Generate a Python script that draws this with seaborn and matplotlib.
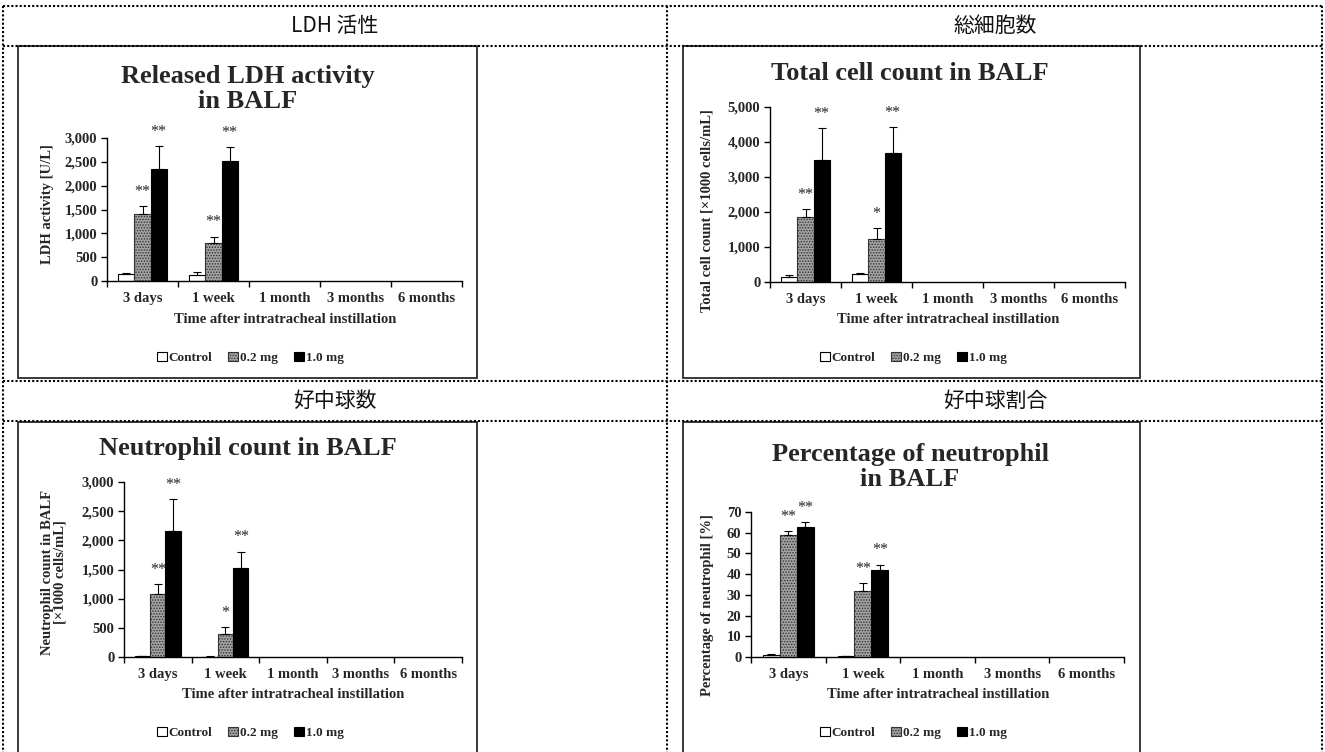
import matplotlib
matplotlib.use("Agg")
import matplotlib.pyplot as plt
import numpy as np
import pandas as pd
import seaborn as sns
from matplotlib.lines import Line2D
from matplotlib.patches import Rectangle
from matplotlib.ticker import FuncFormatter, FixedLocator

W, H = 1325, 752

# ---- data -------------------------------------------------------------
times = ["3 days", "1 week", "1 month", "3 months", "6 months"]
sampled = ["3 days", "1 week"]
doses = ["Control", "0.2 mg", "1.0 mg"]

# Released LDH activity [U/L]
ldh_control = [146, 125]
ldh_low = [1406, 793]
ldh_high = [2360, 2527]
ldh_control_err = [28, 56]
ldh_low_err = [167, 140]
ldh_high_err = [473, 285]
ldh_low_sig = ["**", "**"]
ldh_high_sig = ["**", "**"]

# Total cell count [x1000 cells/mL]
tcc_control = [130, 230]
tcc_low = [1857, 1229]
tcc_high = [3476, 3686]
tcc_control_err = [60, 30]
tcc_low_err = [229, 314]
tcc_high_err = [924, 743]
tcc_low_sig = ["**", "*"]
tcc_high_sig = ["**", "**"]

# Neutrophil count [x1000 cells/mL]
neu_control = [10, 8]
neu_low = [1086, 389]
neu_high = [2160, 1531]
neu_control_err = [3, 3]
neu_low_err = [160, 125]
neu_high_err = [549, 275]
neu_low_sig = ["**", "*"]
neu_high_sig = ["**", "**"]

# Percentage of neutrophil [%]
pct_control = [1.0, 0.4]
pct_low = [58.9, 31.9]
pct_high = [62.6, 41.8]
pct_control_err = [0.6, 0.2]
pct_low_err = [1.7, 3.7]
pct_high_err = [2.4, 2.7]
pct_low_sig = ["**", "**"]
pct_high_sig = ["**", "**"]

headers = ["LDH 活性", "総細胞数", "好中球数", "好中球割合"]

# ---- helpers ----------------------------------------------------------
def fx(x):
    return x / W


def fy(y):
    return 1 - y / H


def long_table(control, low, high, c_err, l_err, h_err, l_sig, h_sig):
    rows = []
    for series, vals, errs, sigs in (
        ("Control", control, c_err, ["", ""]),
        ("0.2 mg", low, l_err, l_sig),
        ("1.0 mg", high, h_err, h_sig),
    ):
        for t, v, e, s in zip(sampled, vals, errs, sigs):
            rows.append({"time": t, "dose": series, "value": v, "err": e, "sig": s})
    return pd.DataFrame(rows)


panels = [
    dict(df=long_table(ldh_control, ldh_low, ldh_high, ldh_control_err,
                       ldh_low_err, ldh_high_err, ldh_low_sig, ldh_high_sig),
         title="Released LDH activity\nin BALF", ylabel="LDH activity [U/L]",
         ymax=3000, ystep=500, comma=True,
         ax_box=(107, 138, 462, 281), title_xy=(248, 89),
         ylabel_xy=(47, 204), xlabel_xy=(285, 320), legend_xy=(250, 358)),
    dict(df=long_table(tcc_control, tcc_low, tcc_high, tcc_control_err,
                       tcc_low_err, tcc_high_err, tcc_low_sig, tcc_high_sig),
         title="Total cell count in BALF",
         ylabel="Total cell count [×1000 cells/mL]",
         ymax=5000, ystep=1000, comma=True,
         ax_box=(770, 107, 1125, 282), title_xy=(910, 74),
         ylabel_xy=(707, 211), xlabel_xy=(948, 320), legend_xy=(913, 358)),
    dict(df=long_table(neu_control, neu_low, neu_high, neu_control_err,
                       neu_low_err, neu_high_err, neu_low_sig, neu_high_sig),
         title="Neutrophil count in BALF",
         ylabel="Neutrophil count in BALF\n[×1000 cells/mL]",
         ymax=3000, ystep=500, comma=True,
         ax_box=(124, 482, 462, 657), title_xy=(248, 449),
         ylabel_xy=(54, 572), xlabel_xy=(293, 695), legend_xy=(250, 733)),
    dict(df=long_table(pct_control, pct_low, pct_high, pct_control_err,
                       pct_low_err, pct_high_err, pct_low_sig, pct_high_sig),
         title="Percentage of neutrophil\nin BALF",
         ylabel="Percentage of neutrophil [%]",
         ymax=70, ystep=10, comma=False,
         ax_box=(751, 512, 1124, 657), title_xy=(910, 467),
         ylabel_xy=(708, 605), xlabel_xy=(938, 695), legend_xy=(913, 733)),
]

# ---- figure -----------------------------------------------------------
sns.set_style("ticks")
plt.rcParams["font.family"] = ["Liberation Serif", "DejaVu Serif"]
plt.rcParams["hatch.linewidth"] = 0.7

SERIF = ["Liberation Serif", "DejaVu Serif"]
CJK = ["Noto Sans CJK JP", "DejaVu Sans"]

fig = plt.figure(figsize=(W / 100, H / 100), dpi=100)
fig.patch.set_facecolor("white")

palette = {"Control": "white", "0.2 mg": "#a2a2a2", "1.0 mg": "black"}

# dotted table grid
dot = dict(color="black", lw=1.5, linestyle=(0, (1, 1)), transform=fig.transFigure)
for yy in (6, 45.5, 381, 421):
    fig.add_artist(Line2D([fx(3), fx(1322)], [fy(yy), fy(yy)], **dot))
for xx in (3, 667, 1322):
    fig.add_artist(Line2D([fx(xx), fx(xx)], [fy(6), fy(760)], **dot))

# cell headings
for text, (cx, cy) in zip(headers, [(335, 26), (995, 26), (335, 401), (995, 401)]):
    fig.text(fx(cx), fy(cy), text, ha="center", va="center",
             fontsize=15, family=CJK, color="#111111")

# chart frames
for (x0, y0, x1, y1) in [(18, 46, 477, 378), (683, 46, 1140, 378),
                         (18, 422, 477, 770), (683, 422, 1140, 770)]:
    fig.add_artist(Rectangle((fx(x0), fy(y1)), fx(x1) - fx(x0), fy(y0) - fy(y1),
                             transform=fig.transFigure, fill=False,
                             edgecolor="#2a2a2a", lw=1.3))

for p in panels:
    x0, y0, x1, y1 = p["ax_box"]
    ax = fig.add_axes([fx(x0), fy(y1), fx(x1) - fx(x0), fy(y0) - fy(y1)])
    ax.patch.set_alpha(0)
    df = p["df"]

    sns.barplot(data=df, x="time", y="value", hue="dose", order=times,
                hue_order=doses, palette=palette, width=0.68, errorbar=None,
                edgecolor="black", linewidth=0.8, saturation=1, legend=False,
                ax=ax)

    bar_sets = list(ax.containers)
    for patch in bar_sets[1]:
        patch.set_hatch("......")
        patch.set_edgecolor("#333333")

    for dose, bars in zip(doses, bar_sets):
        for bar in bars:
            cx = bar.get_x() + bar.get_width() / 2
            t = times[int(round(cx))]
            row = df[(df["dose"] == dose) & (df["time"] == t)].iloc[0]
            top = row["value"] + row["err"]
            ax.errorbar(cx, row["value"], yerr=[[0], [row["err"]]], fmt="none",
                        ecolor="black", elinewidth=0.8, capsize=3, capthick=0.8)
            if row["sig"]:
                ax.annotate(row["sig"], xy=(cx, top), xytext=(0, 7.5),
                            textcoords="offset points", ha="center",
                            va="baseline", fontsize=11.5, family=SERIF,
                            annotation_clip=False)

    ax.set_xlim(-0.5, len(times) - 0.5)
    ax.set_ylim(0, p["ymax"])
    ax.set_yticks(np.arange(0, p["ymax"] + p["ystep"] / 2, p["ystep"]))
    if p["comma"]:
        ax.yaxis.set_major_formatter(FuncFormatter(lambda v, _: f"{int(v):,}"))
    else:
        ax.yaxis.set_major_formatter(FuncFormatter(lambda v, _: f"{int(v)}"))
    ax.set_xticks(range(len(times)))
    ax.set_xticklabels(times)
    ax.xaxis.set_minor_locator(FixedLocator(np.arange(-0.5, len(times), 1.0)))
    ax.tick_params(axis="x", which="major", length=0, pad=8)
    ax.tick_params(axis="x", which="minor", length=4, width=1, direction="out",
                   color="black")
    ax.tick_params(axis="y", which="major", length=4, width=1, direction="out",
                   color="black", pad=3)
    for lab in ax.get_xticklabels() + ax.get_yticklabels():
        lab.set_fontweight("bold")
        lab.set_fontsize(10.5)
        lab.set_family(SERIF)
    ax.set_xlabel("")
    ax.set_ylabel("")
    sns.despine(ax=ax)
    for side in ("left", "bottom"):
        ax.spines[side].set_linewidth(1.0)
        ax.spines[side].set_color("black")

    fig.text(fx(p["title_xy"][0]), fy(p["title_xy"][1]), p["title"],
             ha="center", va="center", fontsize=19, fontweight="bold",
             family=SERIF, linespacing=1.1)
    fig.text(fx(p["ylabel_xy"][0]), fy(p["ylabel_xy"][1]), p["ylabel"],
             ha="center", va="center", rotation=90, fontsize=10.5,
             fontweight="bold", family=SERIF, multialignment="center",
             linespacing=1.0)
    fig.text(fx(p["xlabel_xy"][0]), fy(p["xlabel_xy"][1]),
             "Time after intratracheal instillation", ha="center", va="center",
             fontsize=10.5, fontweight="bold", family=SERIF)
    fig.legend(bar_sets, doses, loc="center",
               bbox_to_anchor=(fx(p["legend_xy"][0]), fy(p["legend_xy"][1])),
               ncol=3, frameon=False, handlelength=0.75, handleheight=0.75,
               handletextpad=0.15, columnspacing=1.2, borderaxespad=0,
               prop=dict(family=SERIF, weight="bold", size=9.5))

fig.savefig("out.png", dpi=100, facecolor="white")
